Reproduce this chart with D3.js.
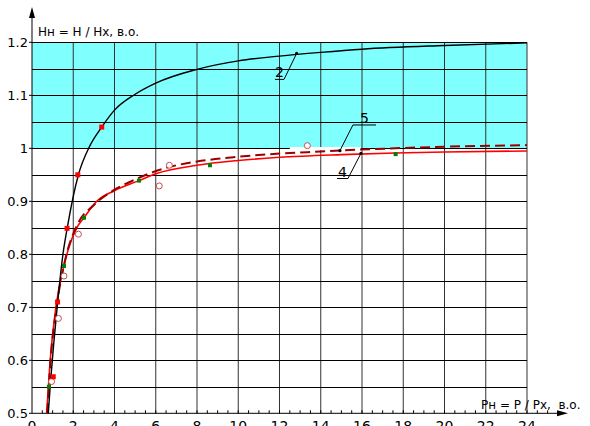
<!DOCTYPE html>
<html>
<head>
<meta charset="utf-8">
<script src="https://cdn.jsdelivr.net/npm/d3@7"></script>
<style>
  html, body { margin: 0; padding: 0; background: #fff; }
  svg { display: block; }
  text { font-family: "DejaVu Sans", "Liberation Sans", sans-serif; fill: #000; }
</style>
</head>
<body>
<svg id="chart" width="590" height="426"></svg>
<script>
// Curve 2: H/Hx versus P/Px (black)
const curve2 = [
  [0.79, 0.5], [0.9, 0.56], [1.05, 0.63], [1.22, 0.7], [1.5, 0.8], [1.71, 0.85],
  [2.25, 0.95], [2.81, 1.005], [3.38, 1.04], [4, 1.072], [5, 1.102],
  [6, 1.123], [8, 1.149], [10, 1.165], [12, 1.174], [14, 1.181],
  [16, 1.187], [20, 1.194], [24, 1.199]
];
// Curve 4 (solid red)
const curve4 = [
  [0.71, 0.5], [0.87, 0.594], [1.16, 0.7], [1.55, 0.778], [1.75, 0.808],
  [2.17, 0.85], [2.52, 0.869], [3.14, 0.9], [4, 0.92], [5.19, 0.939],
  [6, 0.952], [8, 0.968], [10, 0.977], [12, 0.983], [15, 0.988],
  [17.6, 0.991], [20, 0.993], [24, 0.995]
];
// Curve 5 (dashed dark red)
const curve5 = [
  [0.74, 0.5], [0.9, 0.6], [1.19, 0.7], [1.58, 0.785], [2.2, 0.856],
  [3, 0.893], [4, 0.922], [5, 0.941], [5.72, 0.953], [6.69, 0.965],
  [8, 0.975], [10, 0.984], [12, 0.99], [14, 0.994], [15, 0.996],
  [17.6, 1.0], [20, 1.003], [24, 1.006]
];
// Measured points
const squarePts = [[1.03, 0.569], [1.24, 0.71], [1.7, 0.849], [2.22, 0.95], [3.38, 1.04]];
const greenPts = [[0.82, 0.55], [1.55, 0.778], [2.52, 0.869], [5.19, 0.939], [8.63, 0.968], [17.63, 0.989]];
const circlePts = [[0.95, 0.56], [1.28, 0.679], [1.55, 0.759], [2.25, 0.838], [6.17, 0.929], [6.66, 0.968], [13.35, 1.005]];

// Axis ticks
const xTickLabels = [0, 2, 4, 6, 8, 10, 12, 14, 16, 18, 20, 22, 24];
const yTickLabels = [0.5, 0.6, 0.7, 0.8, 0.9, 1, 1.1, 1.2];
const yGrid = d3.range(0.55, 1.2001, 0.05);
const xMinor = d3.range(0.5, 25.01, 0.5);

// Curve callouts: point on curve, elbow of leader, far end of underline
const callouts = [
  { text: "2", at: [12.83, 1.179], elbow: [12.22, 1.13], end: [11.78, 1.13] },
  { text: "5", at: [14.93, 0.9955], elbow: [15.56, 1.044], end: [16.68, 1.044] },
  { text: "4", at: [15.95, 0.9906], elbow: [15.32, 0.943], end: [14.79, 0.943] }
];

const svg = d3.select("#chart");
const x = d3.scaleLinear().domain([0, 24]).range([32, 527]);
const y = d3.scaleLinear().domain([0.5, 1.2]).range([413.3, 42.3]);

// shaded band above 1.0
svg.append("rect")
  .attr("x", x(0)).attr("y", y(1.2))
  .attr("width", x(24) - x(0)).attr("height", y(1.0) - y(1.2))
  .attr("fill", "#80ffff");

// grid
const grid = svg.append("g");
grid.selectAll("line.v").data(xTickLabels.slice(1)).join("line")
  .attr("x1", d => x(d)).attr("x2", d => x(d))
  .attr("y1", y(0.5)).attr("y2", y(1.2))
  .attr("stroke", "#333").attr("stroke-width", 1);
grid.selectAll("line.h").data(yGrid).join("line")
  .attr("x1", x(0)).attr("x2", x(24))
  .attr("y1", d => Math.round(y(d)) + 0.5).attr("y2", d => Math.round(y(d)) + 0.5)
  .attr("stroke", "#000").attr("stroke-width", 1);
// small break in the 1.0 line under the curve labels
svg.append("rect")
  .attr("x", x(12.5)).attr("y", Math.round(y(1.0)) - 1)
  .attr("width", x(15.95) - x(12.5)).attr("height", 3)
  .attr("fill", "#fff");

// axes
const axes = svg.append("g").attr("stroke", "#000").attr("fill", "#000");
axes.append("line").attr("x1", x(0)).attr("x2", x(0)).attr("y1", y(0.5)).attr("y2", 14)
  .attr("stroke-width", 1);
axes.append("path").attr("d", `M${x(0)},7 L${x(0) - 3},18 L${x(0) + 3},18 Z`).attr("stroke", "none");
axes.append("line").attr("x1", x(0)).attr("x2", 560).attr("y1", y(0.5)).attr("y2", y(0.5))
  .attr("stroke-width", 1);
axes.append("path").attr("d", `M568,${y(0.5)} L557,${y(0.5) - 3} L557,${y(0.5) + 3} Z`).attr("stroke", "none");

axes.selectAll("line.mx").data(xMinor).join("line")
  .attr("x1", d => x(d)).attr("x2", d => x(d))
  .attr("y1", y(0.5)).attr("y2", y(0.5) - 3).attr("stroke-width", 1);
axes.selectAll("line.my").data(yTickLabels).join("line")
  .attr("x1", x(0) - 3).attr("x2", x(0))
  .attr("y1", d => y(d)).attr("y2", d => y(d)).attr("stroke-width", 1);

// tick labels
svg.append("g").selectAll("text").data(yTickLabels).join("text")
  .attr("x", 28).attr("y", d => y(d)).attr("dy", "0.36em")
  .attr("text-anchor", "end").attr("font-size", 13)
  .text(d => d3.format("")(d));
svg.append("g").selectAll("text").data(xTickLabels).join("text")
  .attr("x", d => x(d)).attr("y", 431)
  .attr("text-anchor", "middle").attr("font-size", 14)
  .text(d => d);

// axis titles
svg.append("text").attr("x", 38).attr("y", 36).attr("font-size", 12)
  .text("Нн = Н / Нх, в.о.");
svg.append("text").attr("x", 481).attr("y", 409).attr("font-size", 12)
  .attr("xml:space", "preserve").style("white-space", "pre")
  .text("Рн = Р / Рх,  в.о.");

// curves
const line = d3.line().x(d => x(d[0])).y(d => y(d[1])).curve(d3.curveMonotoneX);
svg.append("path").datum(curve4).attr("d", line)
  .attr("fill", "none").attr("stroke", "#ff0000").attr("stroke-width", 1.6);
svg.append("path").datum(curve5).attr("d", line)
  .attr("fill", "none").attr("stroke", "#990000").attr("stroke-width", 2)
  .attr("stroke-dasharray", "10,5");
svg.append("path").datum(curve2).attr("d", line)
  .attr("fill", "none").attr("stroke", "#000").attr("stroke-width", 1.4);

// markers
svg.append("g").selectAll("circle").data(circlePts).join("circle")
  .attr("cx", d => x(d[0])).attr("cy", d => y(d[1])).attr("r", 3)
  .attr("fill", "#fff").attr("stroke", "#c05050").attr("stroke-width", 1);
svg.append("g").selectAll("rect").data(squarePts).join("rect")
  .attr("x", d => x(d[0]) - 2.5).attr("y", d => y(d[1]) - 2.5)
  .attr("width", 5).attr("height", 5).attr("fill", "#ff0000");
svg.append("g").selectAll("rect").data(greenPts).join("rect")
  .attr("x", d => x(d[0]) - 2).attr("y", d => y(d[1]) - 2)
  .attr("width", 4).attr("height", 4).attr("fill", "#008000");

// callouts
const co = svg.append("g");
callouts.forEach(c => {
  co.append("circle").attr("cx", x(c.at[0])).attr("cy", y(c.at[1])).attr("r", 1.6).attr("fill", "#000");
  co.append("polyline")
    .attr("points", [c.at, c.elbow, c.end].map(p => `${x(p[0])},${y(p[1])}`).join(" "))
    .attr("fill", "none").attr("stroke", "#000").attr("stroke-width", 1);
  co.append("text")
    .attr("x", (x(c.elbow[0]) + x(c.end[0])) / 2).attr("y", y(c.elbow[1]) - 2)
    .attr("text-anchor", "middle").attr("font-size", 14)
    .attr("font-family", "Liberation Sans, Arial, sans-serif")
    .text(c.text);
});
</script>
</body>
</html>
